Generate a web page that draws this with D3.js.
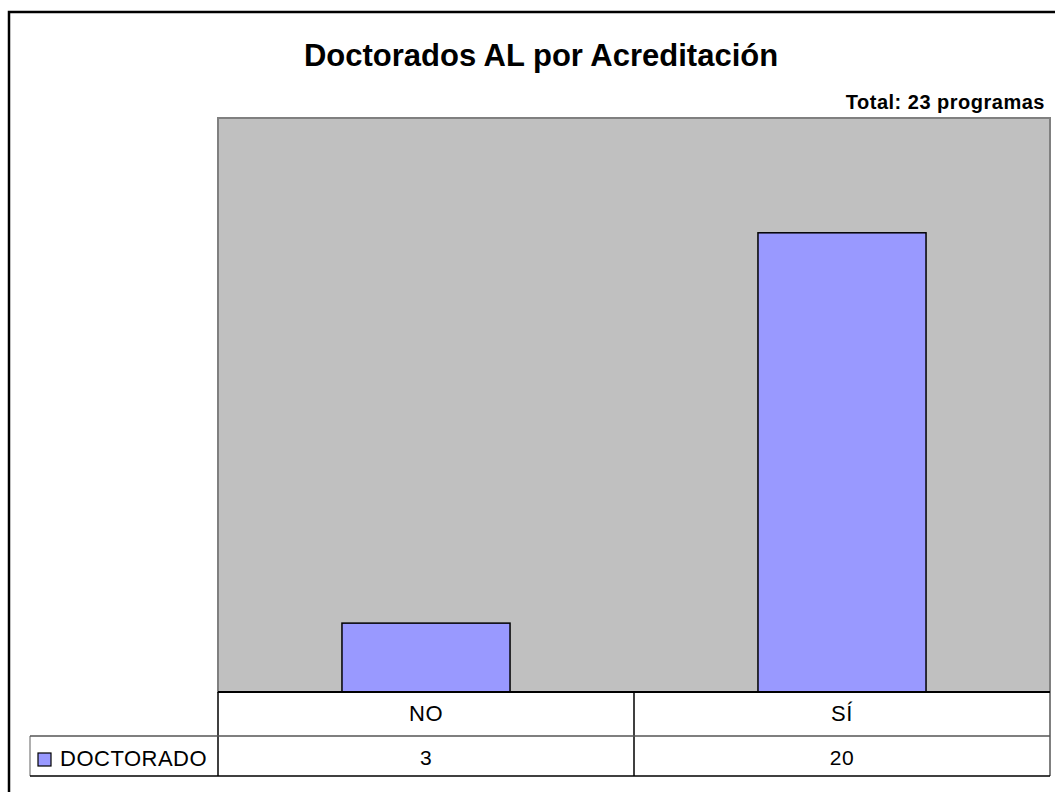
<!DOCTYPE html>
<html>
<head>
<meta charset="utf-8">
<script src="https://cdn.jsdelivr.net/npm/d3@7"></script>
<style>
  body { margin: 0; background: #fff; }
  text { font-family: "Liberation Sans", Arial, sans-serif; }
</style>
</head>
<body>
<div class="chart"></div>
<script>
// Doctorados AL por Acreditación
var categories = ["NO", "SÍ"];
var seriesName = "DOCTORADO";
var values = [3, 20];
var yMax = 25;

var svgWidth = 1055;
var svgHeight = 792;

var plot = { left: 218, right: 1050, top: 118, bottom: 692 };
var rowH1 = 44;   // category row
var rowH2 = 40;   // value row
var legendLeft = 30;

var svg = d3.select(".chart")
    .append("svg")
    .attr("width", svgWidth)
    .attr("height", svgHeight);

// outer frame (right and bottom edges fall outside the picture)
svg.append("rect")
    .attr("x", 9)
    .attr("y", 12)
    .attr("width", 1100)
    .attr("height", 900)
    .attr("fill", "none")
    .attr("stroke", "#000")
    .attr("stroke-width", 2.5);

var xScale = d3.scaleBand()
    .domain(categories)
    .range([plot.left, plot.right])
    .paddingInner(0.596)
    .paddingOuter(0.298);

var yScale = d3.scaleLinear()
    .domain([0, yMax])
    .range([plot.bottom, plot.top]);

// plot area
svg.append("rect")
    .attr("x", plot.left)
    .attr("y", plot.top)
    .attr("width", plot.right - plot.left)
    .attr("height", plot.bottom - plot.top)
    .attr("fill", "#c0c0c0")
    .attr("stroke", "#808080")
    .attr("stroke-width", 2);

// bars
svg.selectAll(".bar")
    .data(values)
    .enter()
    .append("rect")
    .attr("class", "bar")
    .attr("x", function(d, i) { return xScale(categories[i]); })
    .attr("y", function(d) { return yScale(d); })
    .attr("width", xScale.bandwidth())
    .attr("height", function(d) { return yScale(0) - yScale(d); })
    .attr("fill", "#9999ff")
    .attr("stroke", "#000")
    .attr("stroke-width", 1.5);

// data table
var step = xScale.step();
var colLeft = function(i) { return plot.left + i * step; };
var row1Bottom = plot.bottom + rowH1;
var row2Bottom = row1Bottom + rowH2;

var table = svg.append("g").attr("class", "table");

// vertical lines
table.append("line")
    .attr("x1", plot.left).attr("x2", plot.left)
    .attr("y1", plot.bottom).attr("y2", row2Bottom)
    .attr("stroke", "#000").attr("stroke-width", 1.5);
categories.forEach(function(c, i) {
    table.append("line")
        .attr("x1", colLeft(i + 1)).attr("x2", colLeft(i + 1))
        .attr("y1", plot.bottom).attr("y2", row2Bottom)
        .attr("stroke", i === categories.length - 1 ? "#808080" : "#000")
        .attr("stroke-width", i === categories.length - 1 ? 2 : 1.5);
});
table.append("line")
    .attr("x1", legendLeft).attr("x2", legendLeft)
    .attr("y1", row1Bottom).attr("y2", row2Bottom)
    .attr("stroke", "#606060").attr("stroke-width", 1);

// horizontal lines
table.append("line")
    .attr("x1", legendLeft).attr("x2", plot.right)
    .attr("y1", row1Bottom).attr("y2", row1Bottom)
    .attr("stroke", "#555").attr("stroke-width", 1.5);
table.append("line")
    .attr("x1", legendLeft).attr("x2", plot.right)
    .attr("y1", row2Bottom).attr("y2", row2Bottom)
    .attr("stroke", "#000").attr("stroke-width", 1.5);

// axis baseline
svg.append("line")
    .attr("x1", plot.left).attr("x2", plot.right)
    .attr("y1", plot.bottom).attr("y2", plot.bottom)
    .attr("stroke", "#000")
    .attr("stroke-width", 2);

table.selectAll(".cat")
    .data(categories)
    .enter()
    .append("text")
    .attr("class", "cat")
    .attr("x", function(d) { return xScale(d) + xScale.bandwidth() / 2; })
    .attr("y", plot.bottom + 29)
    .attr("text-anchor", "middle")
    .attr("font-size", 22)
    .attr("letter-spacing", 0.5)
    .text(function(d) { return d; });

table.selectAll(".val")
    .data(values)
    .enter()
    .append("text")
    .attr("class", "val")
    .attr("x", function(d, i) { return xScale(categories[i]) + xScale.bandwidth() / 2; })
    .attr("y", row1Bottom + 29)
    .attr("text-anchor", "middle")
    .attr("font-size", 21)
    .attr("letter-spacing", 0.5)
    .text(function(d) { return d; });

// legend key
table.append("rect")
    .attr("x", 38)
    .attr("y", row1Bottom + 17)
    .attr("width", 13)
    .attr("height", 13)
    .attr("fill", "#9999ff")
    .attr("stroke", "#000")
    .attr("stroke-width", 1.2);
table.append("text")
    .attr("x", 60)
    .attr("y", row1Bottom + 30)
    .attr("font-size", 22)
    .attr("letter-spacing", 0.5)
    .text(seriesName);

// titles
svg.append("text")
    .attr("x", 541)
    .attr("y", 66)
    .attr("text-anchor", "middle")
    .attr("font-size", 31)
    .attr("font-weight", "bold")
    .text("Doctorados AL por Acreditación");

svg.append("text")
    .attr("x", 1045)
    .attr("y", 109)
    .attr("text-anchor", "end")
    .attr("font-size", 20)
    .attr("font-weight", "bold")
    .attr("letter-spacing", 0.5)
    .text("Total: " + d3.sum(values) + " programas");
</script>
</body>
</html>
